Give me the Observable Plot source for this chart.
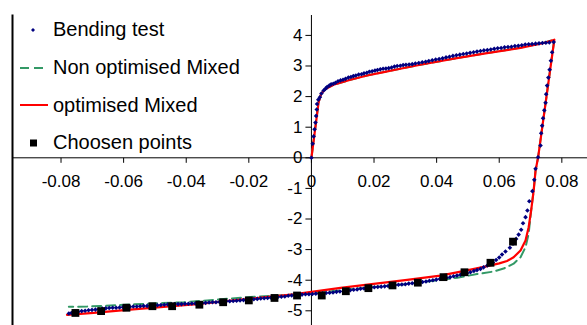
<!DOCTYPE html>
<html>
<head>
<meta charset="utf-8">
<script src="https://cdn.jsdelivr.net/npm/d3@7"></script>
<script src="https://cdn.jsdelivr.net/npm/@observablehq/plot@0.6"></script>
<style>
  html, body { margin: 0; padding: 0; background: #fff; }
  #wrap { position: relative; width: 587px; height: 325px; font-family: "Liberation Sans", Arial, sans-serif; }
  #legend { position: absolute; left: 0; top: 11px; }
  .row { display: flex; align-items: center; height: 37.7px; }
  .row svg { display: block; margin-left: 18px; width: 32px; height: 20px; }
  .row span { margin-left: 3px; font-size: 20px; color: #000; white-space: nowrap; }
</style>
</head>
<body>
<div id="wrap"><div id="legend"></div></div>
<script>
// ---- data (strain, moment) ----
const xTicks = [-0.08, -0.06, -0.04, -0.02, 0, 0.02, 0.04, 0.06, 0.08];
const yTicks = [-5, -4, -3, -2, -1, 0, 1, 2, 3, 4];
const seriesNames = ["Bending test", "Non optimised Mixed", "optimised Mixed", "Choosen points"];

const bendingLoading = [
  [0,0],[0.0004,0.46],[0.0007,0.70],[0.0010,0.93],[0.0013,1.15],[0.0015,1.37],[0.0017,1.58],[0.0018,1.76],
  [0.0022,1.90],[0.0027,1.98],[0.0032,2.10],[0.0039,2.20],[0.0045,2.26],[0.0050,2.31],[0.0057,2.36],[0.0063,2.40],
  [0.0070,2.42],[0.0077,2.45],[0.0085,2.50],[0.0093,2.53],[0.0101,2.55],[0.0109,2.58],[0.0118,2.62],[0.0126,2.64],
  [0.0134,2.67],[0.0142,2.69],[0.0151,2.72],[0.0160,2.73],[0.0168,2.76],[0.0177,2.78],[0.0185,2.81],[0.0194,2.83],
  [0.0203,2.85],[0.0211,2.87],[0.0220,2.89],[0.0229,2.91],[0.0238,2.92],[0.0247,2.93],[0.0256,2.95],[0.0265,2.98],
  [0.0274,3.00],[0.0284,3.01],[0.0293,3.03],[0.0302,3.04],[0.0312,3.05],[0.0322,3.06],[0.0332,3.08],[0.0343,3.10],
  [0.0354,3.12],[0.0365,3.14],[0.0375,3.16],[0.0386,3.19],[0.0397,3.21],[0.0408,3.23],[0.0419,3.25],[0.0430,3.28],
  [0.0441,3.30],[0.0452,3.33],[0.0463,3.35],[0.0474,3.37],[0.0485,3.39],[0.0496,3.41],[0.0507,3.43],[0.0518,3.45],
  [0.0529,3.47],[0.0540,3.49],[0.0551,3.51],[0.0562,3.52],[0.0573,3.54],[0.0584,3.56],[0.0595,3.58],[0.0606,3.59],
  [0.0617,3.61],[0.0628,3.62],[0.0639,3.63],[0.0650,3.65],[0.0661,3.66],[0.0672,3.68],[0.0683,3.70],[0.0694,3.71],
  [0.0705,3.72],[0.0716,3.73],[0.0727,3.74],[0.0738,3.75],[0.0749,3.76],[0.0760,3.77],[0.0774,3.78]
];
const bendingUnloading = [
  [0.0769,3.45],[0.0765,3.17],[0.0761,2.88],[0.0757,2.62],[0.0753,2.36],[0.0750,2.08],[0.0748,1.80],[0.0744,1.55],
  [0.0740,1.29],[0.0737,1.05],[0.0734,0.80],[0.0732,0.40],[0.0724,0.02],[0.0716,-0.36],[0.0712,-0.72],[0.0706,-1.09],
  [0.0696,-1.42],[0.0690,-1.72],[0.0684,-1.94],[0.0676,-2.14],[0.0670,-2.35],[0.0662,-2.51],[0.0654,-2.65],[0.0644,-2.81],
  [0.0634,-2.94],[0.0620,-3.06],[0.0609,-3.16],[0.0600,-3.26],[0.0590,-3.34],[0.0580,-3.42],[0.0570,-3.48],[0.0562,-3.52],
  [0.0550,-3.58],[0.0540,-3.63],[0.0529,-3.67],[0.0519,-3.70],[0.0508,-3.74],[0.0497,-3.77],[0.0486,-3.80],[0.0476,-3.82],
  [0.0465,-3.85],[0.0454,-3.87],[0.0443,-3.90],[0.0432,-3.92],[0.0421,-3.94],[0.0410,-3.96],[0.0399,-3.98],[0.0388,-4.00],
  [0.0377,-4.02],[0.0366,-4.04],[0.0355,-4.06],[0.0344,-4.07],[0.0333,-4.09],[0.0322,-4.10],[0.0311,-4.11],[0.0300,-4.13],
  [0.0289,-4.14],[0.0278,-4.15],[0.0267,-4.16],[0.0256,-4.18],[0.0245,-4.19],[0.0234,-4.20],[0.0223,-4.21],[0.0212,-4.22],
  [0.0201,-4.23],[0.0190,-4.24],[0.0179,-4.25],[0.0168,-4.27],[0.0157,-4.28],[0.0146,-4.30],[0.0135,-4.31],[0.0124,-4.33],
  [0.0113,-4.34],[0.0102,-4.36],[0.0091,-4.37],[0.0080,-4.38],[0.0069,-4.40],[0.0058,-4.41],[0.0047,-4.42],[0.0036,-4.43],
  [0.0025,-4.44],[0.0014,-4.44],[0.0003,-4.45],[-0.0008,-4.46],[-0.0019,-4.46],[-0.0030,-4.47],[-0.0041,-4.48],[-0.0052,-4.49],
  [-0.0063,-4.50],[-0.0074,-4.51],[-0.0085,-4.53],[-0.0096,-4.54],[-0.0107,-4.55],[-0.0118,-4.56],[-0.0129,-4.57],[-0.0140,-4.58],
  [-0.0151,-4.59],[-0.0162,-4.60],[-0.0173,-4.61],[-0.0184,-4.62],[-0.0195,-4.63],[-0.0206,-4.64],[-0.0217,-4.65],[-0.0228,-4.66],
  [-0.0239,-4.67],[-0.0250,-4.68],[-0.0261,-4.69],[-0.0272,-4.69],[-0.0283,-4.70],[-0.0294,-4.71],[-0.0305,-4.72],[-0.0316,-4.72],
  [-0.0327,-4.73],[-0.0338,-4.74],[-0.0349,-4.75],[-0.0360,-4.75],[-0.0371,-4.76],[-0.0382,-4.76],[-0.0393,-4.77],[-0.0404,-4.77],
  [-0.0415,-4.78],[-0.0426,-4.78],[-0.0437,-4.78],[-0.0448,-4.79],[-0.0459,-4.79],[-0.0470,-4.80],[-0.0481,-4.81],[-0.0492,-4.82],
  [-0.0503,-4.82],[-0.0514,-4.83],[-0.0525,-4.84],[-0.0536,-4.84],[-0.0547,-4.85],[-0.0558,-4.86],[-0.0569,-4.86],[-0.0580,-4.87],
  [-0.0591,-4.88],[-0.0602,-4.88],[-0.0613,-4.89],[-0.0624,-4.90],[-0.0635,-4.90],[-0.0646,-4.91],[-0.0657,-4.92],[-0.0668,-4.93],
  [-0.0679,-4.95],[-0.0690,-4.96],[-0.0701,-4.97],[-0.0712,-4.98],[-0.0723,-5.00],[-0.0734,-5.01],[-0.0745,-5.03],[-0.0756,-5.05],
  [-0.0767,-5.07],[-0.0775,-5.09]
];
const optimisedMixed = [
  [0,0],[0.0023,1.82],[0.0031,2.09],[0.0045,2.25],[0.0071,2.39],[0.0125,2.55],[0.0178,2.69],[0.0231,2.80],
  [0.0284,2.91],[0.0348,3.04],[0.0455,3.24],[0.0561,3.42],[0.0668,3.59],[0.0742,3.75],[0.0776,3.86],
  [0.0724,0],[0.0716,-0.42],[0.0710,-1.07],[0.0702,-1.72],[0.0694,-2.27],[0.0684,-2.70],[0.0668,-3.03],
  [0.0646,-3.25],[0.0625,-3.37],[0.0600,-3.45],[0.0562,-3.54],[0.0497,-3.68],[0.0412,-3.85],[0.0306,-3.99],
  [0.0199,-4.12],[0.0093,-4.25],[0,-4.38],[-0.0057,-4.46],[-0.0248,-4.66],[-0.0376,-4.79],[-0.0482,-4.88],
  [-0.0589,-4.97],[-0.0696,-5.07],[-0.0781,-5.13]
];
const nonOptimisedMixed = [
  [0,0],[0.0023,1.82],[0.0031,2.09],[0.0045,2.25],[0.0071,2.39],[0.0125,2.55],[0.0178,2.69],[0.0231,2.80],
  [0.0284,2.91],[0.0348,3.04],[0.0455,3.24],[0.0561,3.42],[0.0668,3.60],[0.0742,3.76],[0.0776,3.86],
  [0.0724,0],[0.0716,-0.42],[0.0710,-1.07],[0.0702,-1.72],[0.0694,-2.48],[0.0684,-2.92],[0.0668,-3.25],
  [0.0646,-3.46],[0.0614,-3.62],[0.0580,-3.72],[0.0529,-3.80],[0.0466,-3.92],[0.0390,-4.02],[0.0300,-4.13],
  [0.0200,-4.22],[0.0100,-4.32],[0,-4.43],[-0.0057,-4.47],[-0.0195,-4.55],[-0.0333,-4.66],[-0.0408,-4.72],
  [-0.0482,-4.75],[-0.0568,-4.79],[-0.0642,-4.83],[-0.0717,-4.86],[-0.0775,-4.87]
];
const choosenPoints = [
  [-0.0754,-5.07],[-0.0672,-5.01],[-0.0591,-4.90],[-0.0508,-4.85],[-0.0445,-4.85],[-0.0358,-4.80],
  [-0.0282,-4.72],[-0.0200,-4.66],[-0.0118,-4.58],[-0.0046,-4.50],[0.0033,-4.50],[0.0110,-4.36],
  [0.0182,-4.26],[0.0259,-4.17],[0.0340,-4.08],[0.0422,-3.90],[0.0489,-3.74],[0.0572,-3.43],[0.0644,-2.74]
];

// ---- styles ----
const NAVY = "#000080", GREEN = "#339966", RED = "#ff0000";
const FONT = "'Liberation Sans', Arial, sans-serif";

const tickDown = { draw(ctx) { ctx.moveTo(0, 0); ctx.lineTo(0, 5); } };
const tickLeft = { draw(ctx) { ctx.moveTo(0, 0); ctx.lineTo(-6, 0); } };
const smallDiamond = { draw(ctx) { ctx.moveTo(0, -2.3); ctx.lineTo(2.3, 0); ctx.lineTo(0, 2.3); ctx.lineTo(-2.3, 0); ctx.closePath(); } };

const bending = bendingLoading.concat(bendingUnloading);

const chart = Plot.plot({
  width: 587,
  height: 325,
  marginTop: 15,
  marginBottom: 0,
  marginLeft: 12,
  marginRight: 0,
  style: { fontFamily: FONT, overflow: "visible", background: "transparent" },
  x: { domain: [-0.0955, 0.0882], axis: null },
  y: { domain: [-5.48, 4.65], axis: null },
  marks: [
    Plot.frame({ anchor: "left", stroke: "#000", strokeWidth: 2 }),
    Plot.ruleY([0], { stroke: "#000", strokeWidth: 1 }),
    Plot.ruleX([0], { stroke: "#000", strokeWidth: 1 }),
    Plot.dot(xTicks, { x: d => d, y: 0, symbol: tickDown, stroke: "#000", strokeWidth: 1, r: 1 }),
    Plot.dot(yTicks, { x: 0, y: d => d, symbol: tickLeft, stroke: "#000", strokeWidth: 1, r: 1 }),
    Plot.text(xTicks, { x: d => d, y: 0, dy: 24, text: d => String(d), fontSize: 17, fill: "#000", textAnchor: "middle" }),
    Plot.text(yTicks, { x: 0, y: d => d, dx: -9, text: d => String(d), fontSize: 17, fill: "#000", textAnchor: "end" }),
    Plot.line(nonOptimisedMixed, { x: d => d[0], y: d => d[1], stroke: GREEN, strokeWidth: 2, strokeDasharray: "9,5" }),
    Plot.line(optimisedMixed, { x: d => d[0], y: d => d[1], stroke: RED, strokeWidth: 2.2 }),
    Plot.dot(bending, { x: d => d[0], y: d => d[1], symbol: smallDiamond, fill: NAVY, stroke: "none", r: 1 }),
    Plot.dot(choosenPoints, { x: d => d[0], y: d => d[1], symbol: "square", fill: "#000", stroke: "none", r: 4.4 })
  ]
});
document.getElementById("wrap").prepend(chart);

// ---- legend ----
const swatches = [
  '<svg viewBox="0 0 32 20"><path d="M15,8L17,10L15,12L13,10Z" fill="' + NAVY + '"/></svg>',
  '<svg viewBox="0 0 32 20"><line x1="2" y1="10" x2="30" y2="10" stroke="' + GREEN + '" stroke-width="2" stroke-dasharray="9,5"/></svg>',
  '<svg viewBox="0 0 32 20"><line x1="2" y1="10" x2="30" y2="10" stroke="' + RED + '" stroke-width="2"/></svg>',
  '<svg viewBox="0 0 32 20"><rect x="12" y="6.5" width="7" height="7" fill="#000"/></svg>'
];
const legend = document.getElementById("legend");
seriesNames.forEach((name, i) => {
  const row = document.createElement("div");
  row.className = "row";
  row.innerHTML = swatches[i] + "<span></span>";
  row.querySelector("span").textContent = name;
  legend.appendChild(row);
});
</script>
</body>
</html>
